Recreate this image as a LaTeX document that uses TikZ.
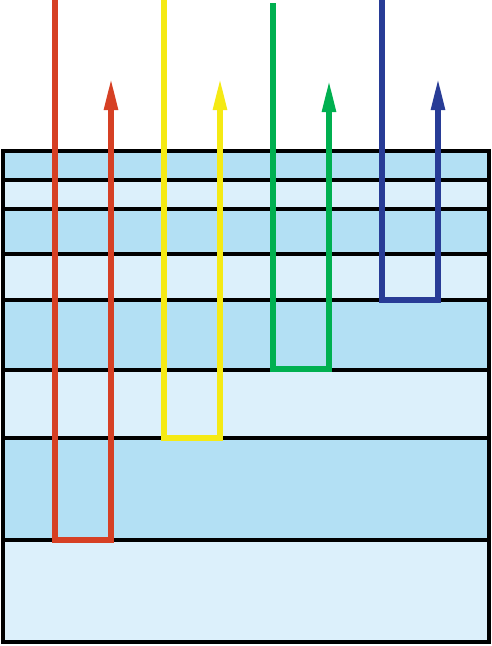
\documentclass[tikz,border=0pt]{standalone}
\usetikzlibrary{arrows.meta}
\definecolor{layerdark}{RGB}{179,224,244}
\definecolor{layerlight}{RGB}{220,240,251}
\definecolor{rayred}{RGB}{214,64,36}
\definecolor{rayyellow}{RGB}{245,234,20}
\definecolor{raygreen}{RGB}{0,176,80}
\definecolor{rayblue}{RGB}{40,60,150}
\begin{document}
\begin{tikzpicture}[x=1pt,y=-1pt,
  layerline/.style={line width=3.5pt,black},
  ray/.style={line width=5.5pt,line join=miter,-{Triangle[length=32pt,width=13pt]}}]
\useasboundingbox (0,0) rectangle (492,646);
% layers
\fill[layerdark]  (3,151) rectangle (489,180);
\fill[layerlight] (3,180) rectangle (489,209);
\fill[layerdark]  (3,209) rectangle (489,254);
\fill[layerlight] (3,254) rectangle (489,300);
\fill[layerdark]  (3,300) rectangle (489,370);
\fill[layerlight] (3,370) rectangle (489,438);
\fill[layerdark]  (3,438) rectangle (489,540);
\fill[layerlight] (3,540) rectangle (489,642);
\draw[layerline] (3,151) rectangle (489,642);
\foreach \yy in {180,209,254,300,370,438,540}
  \draw[layerline] (3,\yy) -- (489,\yy);
% rays
\coordinate (r0) at (55,0);   \coordinate (r1) at (55,540);  \coordinate (r2) at (111,540); \coordinate (r3) at (111,78);
\coordinate (y0) at (164,0);  \coordinate (y1) at (164,438); \coordinate (y2) at (220,438); \coordinate (y3) at (220,78);
\coordinate (g0) at (273,3);  \coordinate (g1) at (273,369); \coordinate (g2) at (329,369); \coordinate (g3) at (329,80);
\coordinate (b0) at (382,0);  \coordinate (b1) at (382,300); \coordinate (b2) at (438,300); \coordinate (b3) at (438,78);
\draw[ray,rayred]    (r0) -- (r1) -- (r2) -- (r3);
\draw[ray,rayyellow] (y0) -- (y1) -- (y2) -- (y3);
\draw[ray,raygreen]  (g0) -- (g1) -- (g2) -- (g3);
\draw[ray,rayblue]   (b0) -- (b1) -- (b2) -- (b3);
\end{tikzpicture}
\end{document}
